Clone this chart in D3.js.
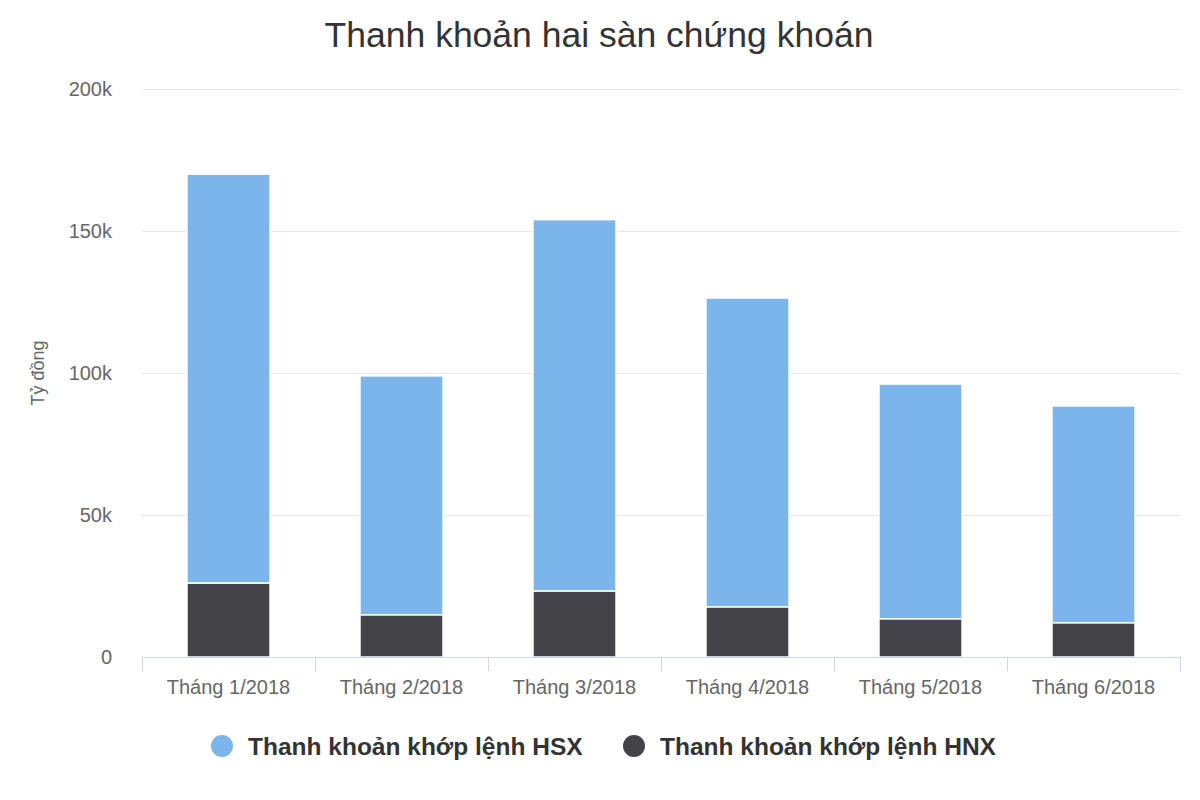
<!DOCTYPE html>
<html><head><meta charset="utf-8">
<script src="https://cdn.jsdelivr.net/npm/d3@7"></script>
<style>body{margin:0;background:#fff;font-family:"Liberation Sans",Arial,sans-serif}</style>
</head><body><svg width="1200" height="800"></svg>
<script>
var categories = ["Tháng 1/2018", "Tháng 2/2018", "Tháng 3/2018", "Tháng 4/2018", "Tháng 5/2018", "Tháng 6/2018"];
var hnx = [26, 14.8, 23.2, 17.6, 13.4, 12];
var hsx = [144, 84.2, 130.8, 108.8, 82.7, 76.4];
var seriesNames = ["Thanh khoản khớp lệnh HSX", "Thanh khoản khớp lệnh HNX"];
var colors = ["#7cb5ec", "#434348"];
var yTicks = [0, 50, 100, 150, 200];

var svg = d3.select("svg");
var plotLeft = 142, plotRight = 1180, plotTop = 89, plotBottom = 657;

var x = d3.scaleBand().domain(categories).range([plotLeft, plotRight]).paddingInner(0.52).paddingOuter(0.26);
var xb = d3.scaleBand().domain(categories).range([plotLeft, plotRight]);
var y = d3.scaleLinear().domain([0, 200]).range([plotBottom, plotTop]);

// grid
svg.selectAll(".grid").data(yTicks).enter().append("line")
  .attr("x1", plotLeft).attr("x2", plotRight)
  .attr("y1", function(d) { return y(d) + 0.5; }).attr("y2", function(d) { return y(d) + 0.5; })
  .attr("stroke", "#e6e6e6");

svg.selectAll(".yl").data(yTicks).enter().append("text")
  .attr("x", 112).attr("y", function(d) { return y(d) + 7; })
  .attr("text-anchor", "end").attr("font-size", 20).attr("fill", "#666")
  .text(function(d) { return d === 0 ? "0" : d + "k"; });

// stacked bars
var data = categories.map(function(c, i) { return {c: c, hnx: hnx[i], hsx: hsx[i]}; });
var g = svg.append("g");
g.selectAll(".hsx").data(data).enter().append("rect")
  .attr("x", function(d) { return x(d.c); }).attr("width", x.bandwidth())
  .attr("y", function(d) { return y(d.hnx + d.hsx); })
  .attr("height", function(d) { return y(d.hnx) - y(d.hnx + d.hsx); })
  .attr("fill", colors[0]).attr("stroke", "#fff").attr("stroke-width", 1.5);
g.selectAll(".hnx").data(data).enter().append("rect")
  .attr("x", function(d) { return x(d.c); }).attr("width", x.bandwidth())
  .attr("y", function(d) { return y(d.hnx); })
  .attr("height", function(d) { return y(0) - y(d.hnx); })
  .attr("fill", colors[1]).attr("stroke", "#fff").attr("stroke-width", 1.5);

// x axis
svg.append("line").attr("x1", plotLeft).attr("x2", plotRight).attr("y1", plotBottom + 0.5).attr("y2", plotBottom + 0.5)
  .attr("stroke", "#ccd6eb");
var edges = categories.map(function(c) { return xb(c); }).concat([plotRight]);
svg.selectAll(".tk").data(edges).enter().append("line")
  .attr("x1", function(d) { return d + 0.5; }).attr("x2", function(d) { return d + 0.5; })
  .attr("y1", plotBottom).attr("y2", plotBottom + 14).attr("stroke", "#ccd6eb");
svg.selectAll(".xl").data(categories).enter().append("text")
  .attr("x", function(d) { return xb(d) + xb.bandwidth() / 2; }).attr("y", 694)
  .attr("text-anchor", "middle").attr("font-size", 20).attr("fill", "#666").text(function(d) { return d; });

// y title
svg.append("text").attr("transform", "translate(44,373) rotate(-90)")
  .attr("text-anchor", "middle").attr("font-size", 18).attr("fill", "#666").text("Tỷ đồng");

// title
svg.append("text").attr("x", 599).attr("y", 47).attr("text-anchor", "middle")
  .attr("font-size", 35.5).attr("fill", "#333").text("Thanh khoản hai sàn chứng khoán");

// legend
var lx = [222, 634];
seriesNames.forEach(function(n, i) {
  svg.append("circle").attr("cx", lx[i]).attr("cy", 746).attr("r", 11).attr("fill", colors[i]);
  svg.append("text").attr("x", lx[i] + 26).attr("y", 755).attr("font-size", 24.5)
    .attr("font-weight", "bold").attr("fill", "#333").text(n);
});
</script></body></html>
